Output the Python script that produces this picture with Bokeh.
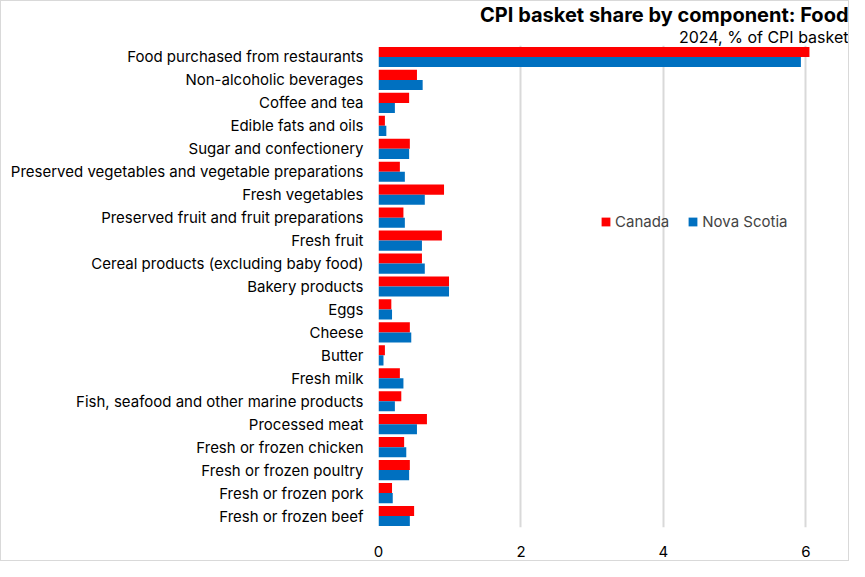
from bokeh.plotting import figure
from bokeh.models import FactorRange, Range1d, FixedTicker, Title, Legend, LegendItem, ColumnDataSource
from bokeh.transform import dodge
from bokeh.embed import file_html
from bokeh.resources import INLINE

categories = [
    "Food purchased from restaurants",
    "Non-alcoholic beverages",
    "Coffee and tea",
    "Edible fats and oils",
    "Sugar and confectionery",
    "Preserved vegetables and vegetable preparations",
    "Fresh vegetables",
    "Preserved fruit and fruit preparations",
    "Fresh fruit",
    "Cereal products (excluding baby food)",
    "Bakery products",
    "Eggs",
    "Cheese",
    "Butter",
    "Fresh milk",
    "Fish, seafood and other marine products",
    "Processed meat",
    "Fresh or frozen chicken",
    "Fresh or frozen poultry",
    "Fresh or frozen pork",
    "Fresh or frozen beef",
]
canada = [6.05, 0.54, 0.43, 0.09, 0.44, 0.30, 0.92, 0.35, 0.89, 0.61, 0.99,
          0.18, 0.44, 0.09, 0.30, 0.32, 0.68, 0.36, 0.44, 0.19, 0.50]
nova_scotia = [5.93, 0.62, 0.23, 0.11, 0.43, 0.37, 0.65, 0.37, 0.61, 0.65, 0.99,
               0.19, 0.46, 0.07, 0.35, 0.23, 0.54, 0.39, 0.43, 0.20, 0.44]
x_ticks = [0, 2, 4, 6]

FONT = "Inter"

src = ColumnDataSource(dict(cat=categories, ca=canada, ns=nova_scotia))

p = figure(width=849, height=561, output_backend="svg", toolbar_location=None,
           title=None,
           y_range=FactorRange(factors=list(reversed(categories)), range_padding=0),
           x_range=Range1d(0, 6.5),
           min_border_left=377, min_border_right=9, min_border_top=43, min_border_bottom=35)
p.styles = {"border": "1px solid #d9d9d9"}

r1 = p.hbar(y=dodge("cat", 0.22, range=p.y_range), right="ca", left=0, height=0.44,
            source=src, color="#ff0000", line_color=None)
r2 = p.hbar(y=dodge("cat", -0.22, range=p.y_range), right="ns", left=0, height=0.44,
            source=src, color="#0070c0", line_color=None)

p.outline_line_color = None
p.ygrid.grid_line_color = None
p.xgrid.ticker = FixedTicker(ticks=x_ticks)
p.xgrid.grid_line_color = "#d9d9d9"
p.xgrid.grid_line_width = 2
p.xaxis.ticker = FixedTicker(ticks=x_ticks)
p.xaxis.axis_line_color = None
p.xaxis.major_tick_line_color = None
p.xaxis.minor_tick_line_color = None
p.xaxis.major_label_text_font = FONT
p.xaxis.major_label_text_font_size = "15px"
p.xaxis.major_label_text_color = "#000000"
p.xaxis.major_label_standoff = 12
p.yaxis.axis_line_color = None
p.yaxis.major_tick_line_color = None
p.yaxis.minor_tick_line_color = None
p.yaxis.major_label_text_font = FONT
p.yaxis.major_label_text_font_size = "15px"
p.yaxis.major_label_text_color = "#000000"
p.yaxis.major_label_standoff = 9

legend = Legend(items=[LegendItem(label="Canada", renderers=[r1]),
                       LegendItem(label="Nova Scotia", renderers=[r2])],
                orientation="horizontal", location=(222, 296),
                background_fill_alpha=0, border_line_color=None,
                glyph_width=11, glyph_height=11, spacing=18, padding=0,
                label_text_font=FONT, label_text_font_size="15px", label_standoff=4)
p.add_layout(legend, "center")

sub = Title(text="2024, % of CPI basket", align="right", offset=-7, standoff=-2,
            text_font=FONT, text_font_size="16px", text_font_style="normal",
            text_color="#000000")
title = Title(text="CPI basket share by component: Food", align="right", offset=-7,
              standoff=-2, text_font=FONT, text_font_style="bold",
              text_font_size="20px", text_color="#000000")
p.add_layout(sub, "above")
p.add_layout(title, "above")

open("out.html", "w").write(file_html(p, INLINE))
